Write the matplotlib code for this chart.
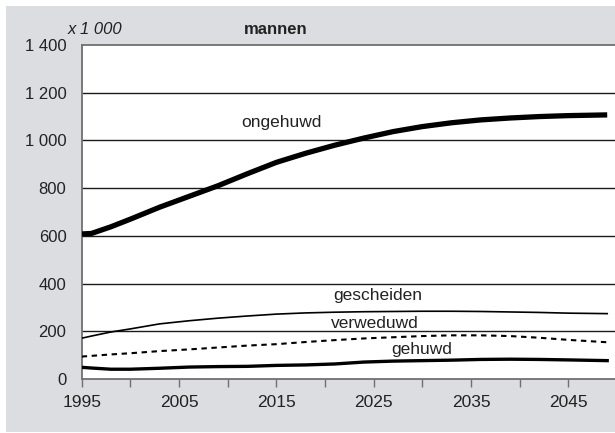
import matplotlib
matplotlib.use('Agg')
import matplotlib.pyplot as plt
from matplotlib.patches import Rectangle
from matplotlib.ticker import FuncFormatter

plt.rcParams['font.family'] = ['Liberation Sans', 'DejaVu Sans']

# Data (x 1 000)
years = [1995, 1996, 1998, 2000, 2003, 2006, 2009, 2012, 2015, 2018, 2021,
         2024, 2027, 2030, 2033, 2036, 2039, 2042, 2045, 2049]
ongehuwd = [608, 610, 638, 670, 720, 765, 810, 860, 908, 946, 980,
            1010, 1037, 1058, 1074, 1086, 1094, 1100, 1104, 1107]
gescheiden = [171, 180, 197, 210, 231, 244, 255, 264, 272, 277, 280,
              282, 283, 284, 284, 283, 281, 279, 276, 274]
verweduwd = [94, 97, 103, 108, 117, 124, 132, 140, 146, 155, 163,
             170, 175, 180, 183, 183, 180, 173, 164, 154]
gehuwd = [49, 46, 41, 41, 45, 50, 52, 53, 57, 59, 63,
          71, 75, 77, 79, 82, 83, 82, 80, 77]

xticks = [1995, 2005, 2015, 2025, 2035, 2045]
yticks = [0, 200, 400, 600, 800, 1000, 1200, 1400]

BG = '#dcdde0'
TXT = '#222222'
AXC = '#707070'

fig = plt.figure(figsize=(6.15, 4.33), dpi=100, facecolor='white')
fig.patches.append(Rectangle((6 / 615, 1 / 433), 609 / 615, 426 / 433,
                             transform=fig.transFigure, facecolor=BG,
                             edgecolor='none', zorder=-10))

ax = fig.add_axes([81.7 / 615, 1 - 379 / 433, 1 - 81.7 / 615, 334 / 433])
ax.set_facecolor('white')

# grid lines
for y in yticks[1:-1]:
    ax.axhline(y, color='#1a1a1a', lw=1.0, zorder=1)

ax.plot(years, ongehuwd, color='black', lw=3.8, solid_capstyle='butt',
        solid_joinstyle='round', zorder=3)
ax.plot(years, gescheiden, color='black', lw=1.2, zorder=3)
ax.plot(years, verweduwd, color='black', lw=1.5, dashes=(2.6, 2.2), zorder=3)
ax.plot(years, gehuwd, color='black', lw=2.4, solid_joinstyle='round', zorder=3)

ax.set_xlim(1995, 2049.8)
ax.set_ylim(0, 1400)
ax.set_xticks(xticks)
ax.set_xticks(range(1995, 2050, 5), minor=True)
ax.set_yticks(yticks)
ax.yaxis.set_major_formatter(FuncFormatter(lambda v, p: f'{int(v):,}'.replace(',', ' ')))

ax.tick_params(axis='x', which='both', direction='out', length=5.5, width=1,
               color=AXC, labelsize=12.5, labelcolor=TXT, pad=6)
ax.tick_params(axis='y', length=0, labelsize=12, labelcolor=TXT, pad=11)

for side in ['left', 'bottom', 'top']:
    ax.spines[side].set_color(AXC)
    ax.spines[side].set_linewidth(1.3)
ax.spines['right'].set_visible(False)

# series labels
lab = dict(fontsize=12.5, color=TXT, ha='center', va='center')
ax.text(2015.5, 1075, 'ongehuwd', **lab)
ax.text(2025.4, 348, 'gescheiden', **lab)
ax.text(2025.1, 231, 'verweduwd', **lab)
ax.text(2029.9, 122, 'gehuwd', **lab)

fig.text(68 / 615, 1 - 29 / 433, 'x 1 000', fontsize=12, style='italic',
         color=TXT, ha='left', va='center')
fig.text(276 / 615, 1 - 29 / 433, 'mannen', fontsize=12, fontweight='bold',
         color=TXT, ha='center', va='center')

fig.savefig('out.png', dpi=100, facecolor=fig.get_facecolor())
